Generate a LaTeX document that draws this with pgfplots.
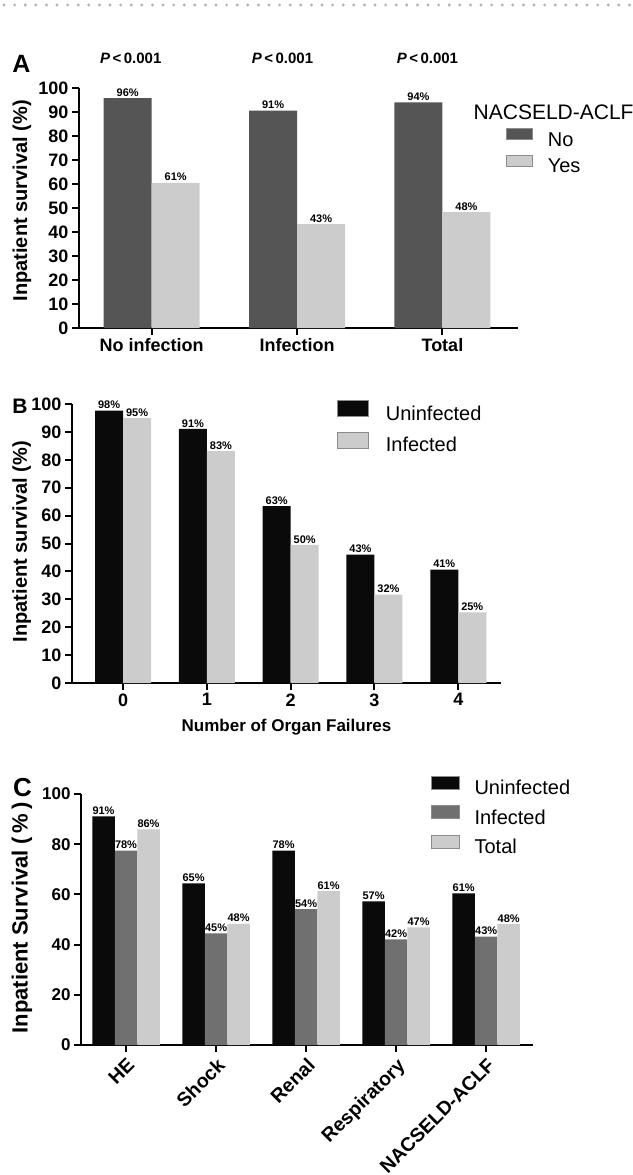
\documentclass[border=0pt]{standalone}
\usepackage{fontspec}
\setmainfont{Liberation Sans}
\usepackage{pgfplots}
\pgfplotsset{compat=1.18}
\definecolor{darkA}{HTML}{555555}
\definecolor{lightG}{HTML}{CCCCCC}
\definecolor{blk}{HTML}{0A0A0A}
\definecolor{midG}{HTML}{707070}
\newcommand{\fs}[1]{\fontsize{#1}{#1}\selectfont}
\pgfplotsset{
  panel/.style={
    scale only axis, clip=false,
    axis x line*=bottom, axis y line*=left,
    axis line style={line width=2pt, black},
    every tick/.style={black, line width=2pt},
    tick align=outside, major tick length=7pt,
    ymin=0, ymax=100,
    ybar=0pt,
    /pgf/number format/assume math mode=true,
    tick label style={font=\fs{18}\bfseries},
    nodes near coords, point meta=explicit symbolic,
    every node near coord/.append style={font=\fs{11}\bfseries, inner sep=1.5pt, anchor=south, black},
    legend style={draw=none, fill=none, inner sep=0pt, font=\fs{20},
      nodes={inner sep=0pt, text height=14pt, text depth=4pt}},
    legend cell align=left,
  }
}
\begin{document}
\begin{tikzpicture}
\useasboundingbox (0,0) rectangle (632pt,-1175pt);
\draw[black!30, line width=3.2pt, line cap=round, dash pattern=on 0pt off 10.6pt] (4pt,-5pt) -- (632pt,-5pt);

% ---------------- Panel A ----------------
\begin{axis}[panel, at={(79pt,-328pt)}, anchor=south west, width=439pt, height=240pt,
  xmin=-0.5, xmax=2.52, bar width=48pt,
  ytick={0,10,...,100}, xtick={0,1,2}, xticklabels={No infection,Infection,Total},
  ylabel={Inpatient survival (\%)},
  ylabel style={font=\fs{20}\bfseries, at={(axis description cs:-0.13,0.53)}, anchor=center},
  legend image code/.code={\draw[#1, draw=black!45, line width=0.5pt] (0pt,1.5pt) rectangle (26pt,12.5pt);},
  legend style={at={(0.973,0.833)}, anchor=north west, row sep=5pt, column sep=15pt},
]
\addplot[fill=darkA, draw=none] coordinates {(0,95.8)[96\%] (1,90.6)[91\%] (2,94.0)[94\%]};
\addplot[fill=lightG, draw=none] coordinates {(0,60.5)[61\%] (1,43.3)[43\%] (2,48.3)[48\%]};
\legend{No,Yes}
\node[font=\fs{15}\bfseries] at (axis cs:-0.144,112.3) {\textit{P}\,<\,0.001};
\node[font=\fs{15}\bfseries] at (axis cs:0.90,112.3) {\textit{P}\,<\,0.001};
\node[font=\fs{15}\bfseries] at (axis cs:1.897,112.3) {\textit{P}\,<\,0.001};
\node[anchor=west, font=\fs{21}] at (axis description cs:0.891,0.9) {NACSELD-ACLF};
\end{axis}
\node[font=\fs{25}\bfseries] at (21.5pt,-64pt) {A};

% ---------------- Panel B ----------------
\begin{axis}[panel, at={(72pt,-683pt)}, anchor=south west, width=429pt, height=279pt,
  xmin=-0.61, xmax=4.51, bar width=28pt,
  ytick={0,10,...,100}, xtick={0,1,2,3,4},
  xlabel={Number of Organ Failures},
  xlabel style={font=\fs{17}\bfseries, at={(axis description cs:0.5,-0.158)}, anchor=center},
  ylabel={Inpatient survival (\%)},
  ylabel style={font=\fs{20}\bfseries, at={(axis description cs:-0.117,0.507)}, anchor=center},
  legend image code/.code={\draw[#1, draw=black!45, line width=0.5pt] (0pt,-1pt) rectangle (31pt,15pt);},
  legend style={at={(0.618,1.014)}, anchor=north west, row sep=7pt, column sep=17pt},
]
\addplot[fill=blk, draw=none] coordinates {(0,97.6)[98\%] (1,91.1)[91\%] (2,63.4)[63\%] (3,46.0)[43\%] (4,40.6)[41\%]};
\addplot[fill=lightG, draw=none] coordinates {(0,94.9)[95\%] (1,83.1)[83\%] (2,49.5)[50\%] (3,31.7)[32\%] (4,25.3)[25\%]};
\legend{Uninfected,Infected}
\end{axis}
\node[font=\fs{21}\bfseries] at (20pt,-406pt) {B};

% ---------------- Panel C ----------------
\begin{axis}[panel, at={(81pt,-1045pt)}, anchor=south west, width=452pt, height=251pt,
  xmin=-0.5, xmax=4.52, bar width=22.5pt,
  ytick={0,20,...,100}, xtick={0,1,2,3,4},
  xticklabels={HE,Shock,Renal,Respiratory,NACSELD-ACLF},
  yticklabel style={font=\fs{17}\bfseries},
  xticklabel style={rotate=45, anchor=north east, font=\fs{19.5}\bfseries},
  ylabel={Inpatient Survival (\,\%\,)},
  ylabel style={font=\fs{22}\bfseries, at={(axis description cs:-0.1305,0.506)}, anchor=center},
  legend image code/.code={\draw[#1, draw=black!45, line width=0.5pt] (0pt,0.5pt) rectangle (28pt,13.5pt);},
  legend style={at={(0.774,1.072)}, anchor=north west, row sep=6.5pt, column sep=15pt},
]
\addplot[fill=blk, draw=none] coordinates {(0,91.1)[91\%] (1,64.4)[65\%] (2,77.4)[78\%] (3,57.2)[57\%] (4,60.4)[61\%]};
\addplot[fill=midG, draw=none] coordinates {(0,77.4)[78\%] (1,44.5)[45\%] (2,54.1)[54\%] (3,42.1)[42\%] (4,43.2)[43\%]};
\addplot[fill=lightG, draw=none] coordinates {(0,85.9)[86\%] (1,48.3)[48\%] (2,61.4)[61\%] (3,46.9)[47\%] (4,48.2)[48\%]};
\legend{Uninfected,Infected,Total}
\end{axis}
\node[font=\fs{26}\bfseries] at (22.5pt,-787.5pt) {C};
\end{tikzpicture}
\end{document}
